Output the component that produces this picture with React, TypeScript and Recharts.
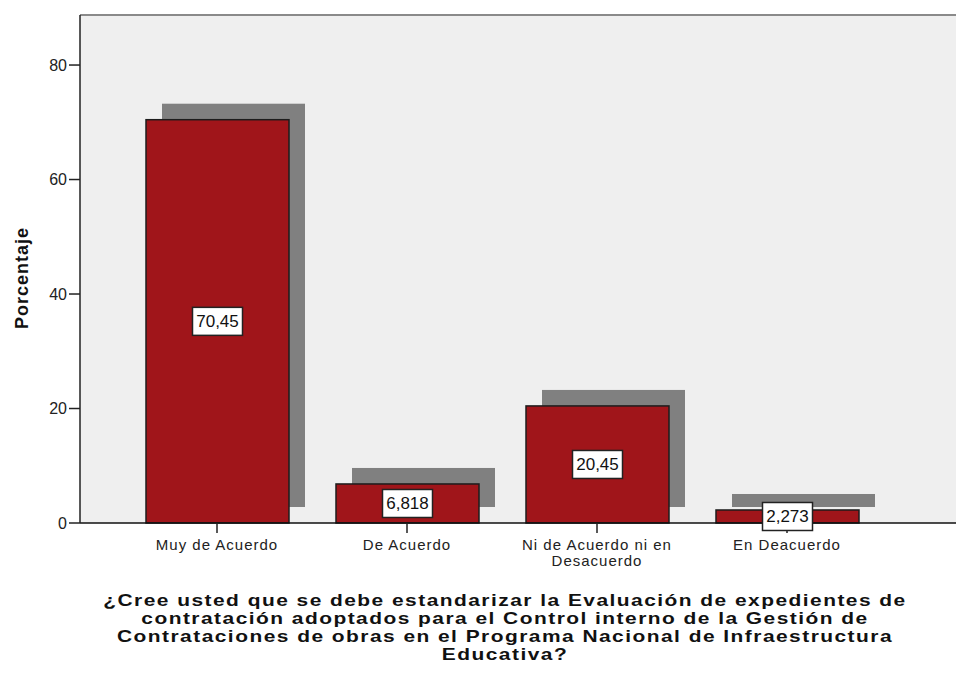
import { Bar, BarChart, CartesianGrid, LabelList, ReferenceLine, Text, XAxis, YAxis } from "recharts";

const CATEGORIES = ["Muy de Acuerdo", "De Acuerdo", "Ni de Acuerdo ni en Desacuerdo", "En Deacuerdo"];
const PERCENTS = [70.45, 6.818, 20.45, 2.273];
const Y_TICKS = [0, 20, 40, 60, 80];
const Y_MAX = 88.74;
const TITLE_LINES = [
  "¿Cree usted que se debe estandarizar la Evaluación de expedientes de",
  "contratación adoptados para el Control interno de la Gestión de",
  "Contrataciones de obras en el Programa Nacional de Infraestructura",
  "Educativa?"
];

const data = CATEGORIES.map((name, i) => ({ name, value: PERCENTS[i] }));

const FONT = "'Liberation Sans', Arial, sans-serif";
const SHADOW = 16;

// bar with the offset grey shadow behind it
const ShadowBar = (props: any) => {
  const { x, y, width, height } = props;
  return (
    <g>
      <rect x={x + SHADOW} y={y - SHADOW} width={width} height={height} fill="#808080" />
      <rect x={x} y={y} width={width} height={height} fill="#a0151a" stroke="#1c1c1c" strokeWidth={1.5} />
    </g>
  );
};

const fmt = (v: number) => v.toPrecision(4).replace(".", ",");

const ValueBox = (props: any) => {
  const { x, y, width, height, value } = props;
  const cx = x + width / 2;
  const cy = y + height / 2;
  const label = fmt(value);
  const w = label.length * 9 + 5;
  return (
    <g>
      <rect x={cx - w / 2} y={cy - 14} width={w} height={28} fill="#fff" stroke="#222" strokeWidth={1.5} />
      <text x={cx} y={cy + 6} textAnchor="middle" fontSize={17} fontFamily={FONT} fill="#111">
        {label}
      </text>
    </g>
  );
};

const CategoryTick = (props: any) => {
  const { x, y, payload } = props;
  return (
    <Text
      x={x}
      y={y + 4}
      width={175}
      textAnchor="middle"
      verticalAnchor="start"
      fontSize={15}
      fontFamily={FONT}
      fill="#222"
      letterSpacing={1}
      lineHeight={16}
    >
      {payload.value}
    </Text>
  );
};

export default function App() {
  return (
    <div style={{ position: "absolute", left: 0, top: 0, width: 956, height: 678, background: "#fff", fontFamily: FONT }}>
      <BarChart width={956} height={678} data={data} margin={{ top: 15, right: 0, bottom: 115, left: 0 }}>
        <CartesianGrid fill="#efefef" stroke="none" horizontal={false} vertical={false} />
        <ReferenceLine y={Y_MAX} stroke="#8a8a8a" strokeWidth={2} />
        <XAxis
          dataKey="name"
          height={40}
          padding={{ left: 42, right: 74 }}
          axisLine={{ stroke: "#111", strokeWidth: 1.5 }}
          tickLine={{ stroke: "#222", strokeWidth: 1.5 }}
          tickSize={10}
          interval={0}
          tick={<CategoryTick />}
        />
        <YAxis
          width={80}
          domain={[0, Y_MAX]}
          ticks={Y_TICKS}
          axisLine={{ stroke: "#222", strokeWidth: 1.5 }}
          tickLine={{ stroke: "#222", strokeWidth: 1.5 }}
          tickSize={11}
          tickMargin={2}
          tick={{ fontSize: 16, fontFamily: FONT, fill: "#222" }}
        />
        <Bar dataKey="value" barSize={143} shape={<ShadowBar />} isAnimationActive={false}>
          <LabelList dataKey="value" content={<ValueBox />} />
        </Bar>
      </BarChart>
      <div
        style={{
          position: "absolute",
          left: 22,
          top: 278,
          transform: "translate(-50%, -50%) rotate(-90deg)",
          fontWeight: "bold",
          fontSize: 18,
          letterSpacing: 1,
          color: "#111",
          whiteSpace: "nowrap"
        }}
      >
        Porcentaje
      </div>
      <div
        style={{
          position: "absolute",
          left: 55,
          top: 592,
          width: 900,
          textAlign: "center",
          fontWeight: "bold",
          fontSize: 17,
          lineHeight: "18px",
          letterSpacing: 1.2,
          color: "#111",
          transform: "scaleX(1.23)",
          transformOrigin: "450px 0"
        }}
      >
        {TITLE_LINES.map((line) => (
          <div key={line} style={{ whiteSpace: "nowrap" }}>
            {line}
          </div>
        ))}
      </div>
    </div>
  );
}
